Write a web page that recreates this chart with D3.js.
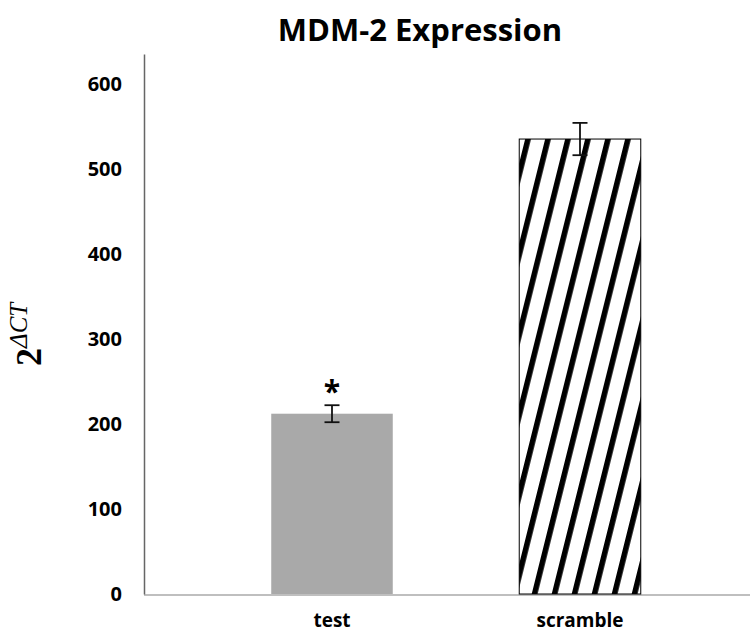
<!DOCTYPE html>
<html>
<head>
<meta charset="utf-8">
<script src="https://cdn.jsdelivr.net/npm/d3@7"></script>
<style>
  body { margin: 0; background: #fff; }
  text { font-family: "Open Sans", sans-serif; }
</style>
</head>
<body>
<div id="chart"></div>
<script>
// chart data
var categories = ["test", "scramble"];
var means = [212, 535];
var errors = [10, 19];
var yTicks = [0, 100, 200, 300, 400, 500, 600];
var significant = [true, false];

var W = 750, H = 635;

var svg = d3.select("#chart").append("svg")
  .attr("width", W)
  .attr("height", H);

// hatch pattern for the scramble bar
var defs = svg.append("defs");
defs.append("pattern")
  .attr("id", "hatch")
  .attr("patternUnits", "userSpaceOnUse")
  .attr("width", 19.4).attr("height", 40)
  .attr("patternTransform", "rotate(14)")
  .append("rect")
  .attr("x", 0).attr("y", 0)
  .attr("width", 5.6).attr("height", 40)
  .attr("fill", "#000");

// scales
var y = d3.scaleLinear().domain([0, 635]).range([594, 54]);
var x = d3.scaleBand().domain(categories).range([208, 704])
  .paddingInner(0.51).paddingOuter(0.255);

// x axis line
svg.append("line")
  .attr("x1", 144).attr("x2", W)
  .attr("y1", y(0) + 1).attr("y2", y(0) + 1)
  .attr("stroke", "#bfbfbf").attr("stroke-width", 2);

// y axis
var yAxis = svg.append("g")
  .attr("transform", "translate(144,0)")
  .call(d3.axisLeft(y).tickValues(yTicks).tickSize(0).tickSizeOuter(0).tickPadding(22));
yAxis.select(".domain").attr("stroke", "#666").attr("stroke-width", 1.5);
yAxis.selectAll("text")
  .attr("font-family", "Open Sans")
  .attr("font-weight", "bold")
  .attr("font-size", 20)
  .attr("fill", "#000");

// bars
svg.selectAll(".bar")
  .data(categories)
  .enter()
  .append("rect")
  .attr("class", "bar")
  .attr("x", function(d) { return x(d); })
  .attr("width", x.bandwidth())
  .attr("y", function(d, i) { return y(means[i]); })
  .attr("height", function(d, i) { return y(0) - y(means[i]); })
  .attr("fill", function(d, i) { return i == 0 ? "#a9a9a9" : "url(#hatch)"; })
  .attr("stroke", function(d, i) { return i == 0 ? "none" : "#000"; })
  .attr("stroke-width", 1);

// error bars
var eb = svg.selectAll(".err")
  .data(categories)
  .enter()
  .append("g")
  .attr("class", "err")
  .attr("stroke", "#111")
  .attr("stroke-width", 1.8);
eb.append("line")
  .attr("x1", function(d) { return x(d) + x.bandwidth() / 2; })
  .attr("x2", function(d) { return x(d) + x.bandwidth() / 2; })
  .attr("y1", function(d, i) { return y(means[i] + errors[i]); })
  .attr("y2", function(d, i) { return y(means[i] - errors[i]); });
eb.append("line")
  .attr("x1", function(d) { return x(d) + x.bandwidth() / 2 - 7.5; })
  .attr("x2", function(d) { return x(d) + x.bandwidth() / 2 + 7.5; })
  .attr("y1", function(d, i) { return y(means[i] + errors[i]); })
  .attr("y2", function(d, i) { return y(means[i] + errors[i]); });
eb.append("line")
  .attr("x1", function(d) { return x(d) + x.bandwidth() / 2 - 7.5; })
  .attr("x2", function(d) { return x(d) + x.bandwidth() / 2 + 7.5; })
  .attr("y1", function(d, i) { return y(means[i] - errors[i]); })
  .attr("y2", function(d, i) { return y(means[i] - errors[i]); });

// significance star
svg.selectAll(".star")
  .data(categories.filter(function(d, i) { return significant[i]; }))
  .enter()
  .append("text")
  .attr("class", "star")
  .attr("x", function(d) { return x(d) + x.bandwidth() / 2; })
  .attr("y", function(d) { var i = categories.indexOf(d); return y(means[i] + errors[i]) - 3; })
  .attr("text-anchor", "middle")
  .attr("font-size", 30)
  .attr("font-weight", "bold")
  .text("*");

// category labels
svg.selectAll(".cat")
  .data(categories)
  .enter()
  .append("text")
  .attr("class", "cat")
  .attr("x", function(d) { return x(d) + x.bandwidth() / 2; })
  .attr("y", 627)
  .attr("text-anchor", "middle")
  .attr("font-size", 19)
  .attr("font-weight", "bold")
  .text(function(d) { return d; });

// title
svg.append("text")
  .attr("x", 420)
  .attr("y", 41)
  .attr("text-anchor", "middle")
  .attr("font-size", 31)
  .attr("font-weight", "bold")
  .text("MDM-2 Expression");

// y label 2^dCT
var yl = svg.append("text")
  .attr("transform", "translate(41,366) rotate(-90)")
  .attr("font-family", "Liberation Serif");
yl.append("tspan")
  .attr("font-family", "Liberation Serif")
  .attr("font-weight", "bold")
  .attr("font-size", 36)
  .text("2");
yl.append("tspan")
  .attr("font-family", "Liberation Serif")
  .attr("font-style", "italic")
  .attr("font-size", 25)
  .attr("dy", -14)
  .text("ΔCT");
</script>
</body>
</html>
